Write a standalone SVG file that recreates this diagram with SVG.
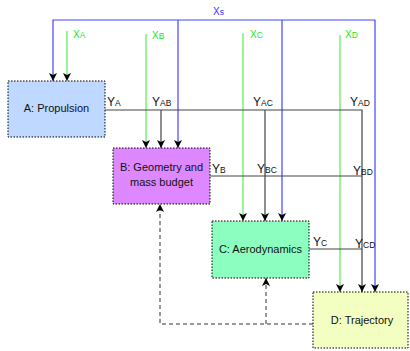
<svg xmlns="http://www.w3.org/2000/svg" width="410" height="351" viewBox="0 0 410 351">
<style>
.box{stroke:#000;stroke-width:1;stroke-dasharray:1.5,1.5}
.bt{font-family:"Liberation Sans",Arial,sans-serif;font-size:11px;fill:#111;text-anchor:middle}
.y{font-family:"Liberation Sans",Arial,sans-serif;font-size:12px;fill:#111}
.x{font-family:"Liberation Sans",Arial,sans-serif;font-size:10px;fill:#22e622}
.xs{font-family:"Liberation Sans",Arial,sans-serif;font-size:10px;fill:#3333ff}
.sub{font-size:8.5px}
.k{stroke:#444;stroke-width:1.2;fill:none}
.g{stroke:#33ee33;stroke-width:1;fill:none}
.b{stroke:#4444ff;stroke-width:1.2;fill:none}
.d{stroke:#333;stroke-width:1;stroke-dasharray:4,3;fill:none}
</style>
<defs>
<marker id="ah" markerUnits="userSpaceOnUse" markerWidth="10" markerHeight="10" refX="8" refY="4" orient="auto">
<path d="M0,0 L8,4 L0,8 L2,4 z" fill="#000"/>
</marker>
</defs>
<g id="connectors">
<path class="b" d="M214,20 H53 V81" marker-end="url(#ah)"/>
<path class="b" d="M214,20 H375 V292" marker-end="url(#ah)"/>
<path class="b" d="M178,20 V148" marker-end="url(#ah)"/>
<path class="b" d="M282,20 V221" marker-end="url(#ah)"/>
<path class="g" d="M67,31 V81" marker-end="url(#ah)"/>
<path class="g" d="M146,34 V148" marker-end="url(#ah)"/>
<path class="g" d="M243,33 V221" marker-end="url(#ah)"/>
<path class="g" d="M340,35 V292" marker-end="url(#ah)"/>
<path class="k" d="M105,110 H362 V292" marker-end="url(#ah)"/>
<path class="k" d="M161,110 V148" marker-end="url(#ah)"/>
<path class="k" d="M265,110 V221" marker-end="url(#ah)"/>
<path class="k" d="M210,176 H362"/>
<path class="k" d="M309,249 H362"/>
<path class="d" d="M313,324 H160 V204" marker-end="url(#ah)"/>
<path class="d" d="M266,324 V278" marker-end="url(#ah)"/>
</g>
<g id="labels">
<text class="xs" x="213" y="15">X<tspan class="sub">s</tspan></text>
<text class="x" x="73" y="38">X<tspan class="sub">A</tspan></text>
<text class="x" x="152" y="39">X<tspan class="sub">B</tspan></text>
<text class="x" x="250" y="38">X<tspan class="sub">C</tspan></text>
<text class="x" x="345" y="38">X<tspan class="sub">D</tspan></text>
<text class="y" x="107" y="106">Y<tspan class="sub">A</tspan></text>
<text class="y" x="152" y="106">Y<tspan class="sub">AB</tspan></text>
<text class="y" x="253" y="106">Y<tspan class="sub">AC</tspan></text>
<text class="y" x="350" y="106">Y<tspan class="sub">AD</tspan></text>
<text class="y" x="212" y="173">Y<tspan class="sub">B</tspan></text>
<text class="y" x="257" y="173">Y<tspan class="sub">BC</tspan></text>
<text class="y" x="353" y="175">Y<tspan class="sub">BD</tspan></text>
<text class="y" x="313" y="246">Y<tspan class="sub">C</tspan></text>
<text class="y" x="355" y="248">Y<tspan class="sub">CD</tspan></text>
</g>
<g id="A">
<rect class="box" x="8" y="81" width="97" height="56" fill="#bfd8ff"/>
<text class="bt" x="56.5" y="112">A: Propulsion</text>
</g>
<g id="B">
<rect class="box" x="113" y="148" width="97" height="56" fill="#dd88ff"/>
<text class="bt" x="161.5" y="171">B: Geometry and</text>
<text class="bt" x="161.5" y="186">mass budget</text>
</g>
<g id="C">
<rect class="box" x="212" y="221" width="97" height="57" fill="#8cffc0"/>
<text class="bt" x="260.5" y="253">C: Aerodynamics</text>
</g>
<g id="D">
<rect class="box" x="313" y="292" width="95" height="56" fill="#f2ffc0"/>
<text class="bt" x="362" y="324">D: Trajectory</text>
</g>
</svg>
